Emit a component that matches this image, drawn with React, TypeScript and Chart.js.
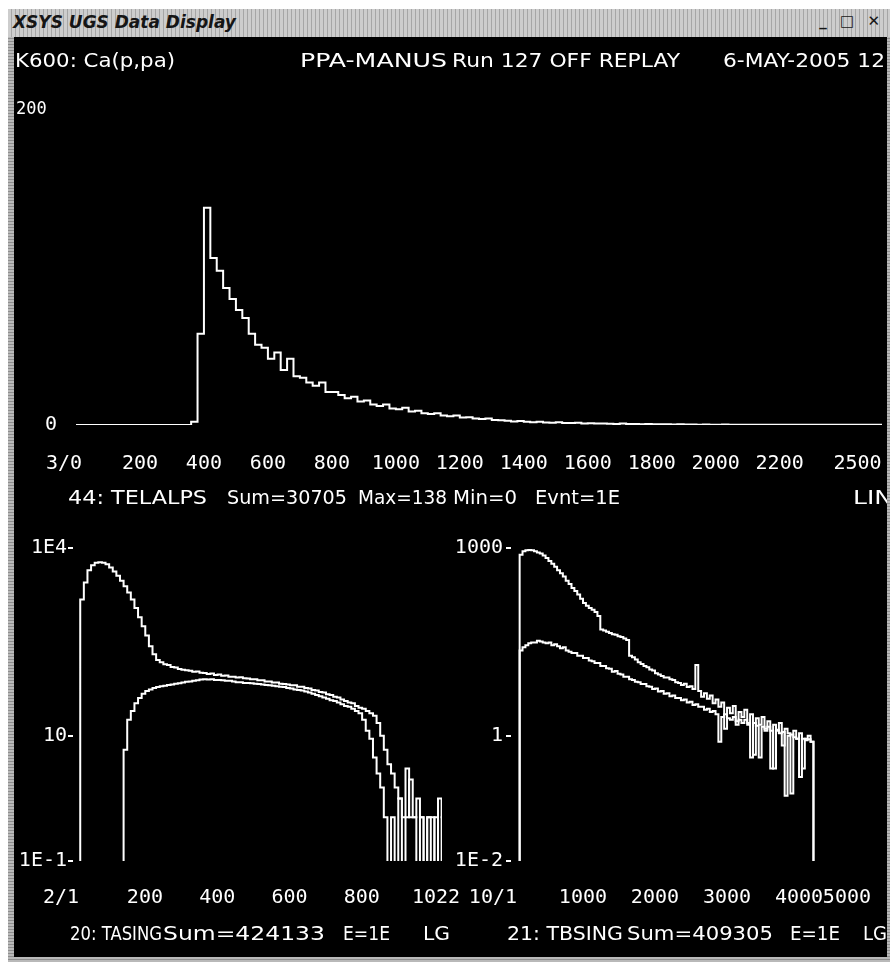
import { useEffect, useRef } from "react";
import { Chart, registerables } from "chart.js";

Chart.register(...registerables);

const MONO = '"DejaVu Sans Mono", monospace';
const SANS = '"DejaVu Sans", sans-serif';
const INK = "#ffffff";
const FIG = "\u2007";

// 44: TELALPS — linear spectrum, 20-channel bins starting at channel 0
const TELALPS_FIRST = 0;
const TELALPS_BIN = 20;
const TELALPS_COUNTS = [
  0, 0, 0, 0, 0, 0, 0, 0, 0, 0,
  0, 0, 0, 0, 0, 0, 0, 0, 2, 58,
  138, 106, 98, 87, 80, 73, 68, 58, 51, 49,
  42, 46, 35, 42, 31, 30, 27, 25, 27, 21,
  21, 19, 17, 18, 15, 15.5, 13, 12, 13, 10.5,
  10, 11, 8.5, 9, 7.5, 7, 7.5, 6, 5.5, 6,
  4.8, 5, 4.2, 3.8, 4.1, 3.2, 3, 2.7, 2.3, 2.6,
  2, 1.8, 2.1, 1.6, 1.5, 1.8, 1.3, 1.2, 1.4, 1,
  1.1, 0.9, 1, 0.8, 0.7, 0.9, 0.6, 0.6, 0.5, 0.7,
  0.4, 0.5, 0.4, 0.3, 0.4, 0.3, 0.3, 0.2, 0.3, 0.2,
  0.2, 0.3, 0.2, 0.2, 0.2, 0.1, 0.2, 0.2, 0.1, 0.2,
  0.1, 0.1, 0.2, 0.1, 0.1, 0.1, 0.1, 0.1, 0.1, 0.1,
  0.1, 0.1, 0.1, 0.1, 0.1, 0.1,
];
const TELALPS_X_TICKS = [0, 200, 400, 600, 800, 1000, 1200, 1400, 1600, 1800, 2000, 2200, 2500];
const TELALPS_X_LABELS = ["3/0", "200", "400", "600", "800", "1000", "1200", "1400", "1600", "1800", "2000", "2200", "2500"];
const TELALPS_Y_TICKS = [0, 200];
const TELALPS_Y_LABELS = ["0", "200"];

// 20: TASING — two overlaid spectra, 10-channel bins from channel 1
const TASING_FIRST = 1;
const TASING_BIN = 10;
const TASING_A = [
  0, 0, 1500, 2800, 4400, 5300, 5800, 5900, 5800, 5500,
  4900, 4200, 3600, 3000, 2450, 1950, 1500, 1100, 780, 560,
  400, 270, 200, 162, 150, 139, 135, 126, 123, 117,
  114, 111, 109, 105, 106, 102, 101, 97, 99, 94,
  95, 91, 92, 88, 88, 85, 86, 83, 82, 80,
  80, 77, 77, 74, 74, 71, 71, 68, 67, 66,
  64, 64, 61, 61, 58, 57, 54, 53, 50, 49,
  46, 45, 42, 41, 38, 36, 34, 33, 30, 28,
  27, 25, 23, 21, 16, 10, 6, 3.5, 2.5, 1.5,
  1, 0.5, 3, 0.5, 0.5, 1, 0.5, 0, 0.5, 0.5,
  0, 1, 0.5,
];
const TASING_B = [
  0, 0, 0, 0, 0, 0, 0, 0, 0, 0,
  0, 0, 0, 0, 6, 18, 25, 33, 40, 47,
  52, 55, 58, 60, 62, 63, 65, 66, 68, 69,
  71, 73, 74, 76, 77, 79, 80, 79, 80, 78,
  78, 77, 76, 76, 74, 72, 72, 70, 70, 69,
  68, 67, 66, 65, 64, 63, 62, 61, 60, 58,
  57, 55, 54, 53, 51, 49, 47, 45, 43, 41,
  39, 37, 36, 34, 32, 30, 29, 27, 25, 23,
  18, 12, 9, 4.5, 2.5, 1.5, 0.5, 0, 0.5, 0,
  1, 0, 0.5, 2, 0.5, 0, 0.5, 0, 0.5, 0,
  0.5, 0, 0.5,
];
const TASING_X_TICKS = [1, 200, 400, 600, 800, 1022];
const TASING_X_LABELS = ["2/1", "200", "400", "600", "800", "1022"];
const TASING_Y_TICKS = [0.1, 10, 10000];
const TASING_Y_LABELS = ["1E-1", "10", "1E4"];

// 21: TBSING — two overlaid spectra, 40-channel bins from channel 1
const TBSING_FIRST = 1;
const TBSING_BIN = 40;
const TBSING_U = [
  0, 0, 0, 780, 890, 920, 930, 920, 890, 850,
  820, 760, 690, 620, 560, 500, 440, 395, 350, 300,
  265, 230, 205, 180, 155, 132, 120, 110, 103, 95,
  82, 50, 48, 46, 44, 42, 41, 39, 38, 36,
  34, 19, 18, 16.5, 15, 14, 13, 12.5, 11.5, 11,
  10, 9.5, 9, 8.5, 8.5, 8, 7.8, 7.2, 7, 6.5,
  6.8, 6, 6.2, 5.6, 13.5, 5.2, 4.2, 4.8, 3.9, 4.4,
  3.3, 3.8, 2.9, 3.4, 1.3, 2.8, 2.3, 3, 1.5, 2.4,
  2, 2.6, 1.6, 2.2, 0.5, 1.9, 1.5, 2, 1.2, 1.7,
  0.3, 1.5, 1.2, 1.6, 0.7, 1.3, 1.1, 0.12, 1.2, 0.9,
  1.1, 0.3, 0.9, 1, 0.8,
];
const TBSING_L = [
  0, 0, 0, 23, 26, 28, 30, 31, 31, 33,
  32, 31, 30, 31, 28, 29, 27, 25, 26, 23,
  22, 21, 21, 19, 19, 17.5, 17.5, 16, 15.5, 14.5,
  14.5, 13, 13, 12, 11.8, 10.5, 10.8, 9.8, 9.5, 8.8,
  8.8, 8, 7.8, 7.3, 7.2, 6.7, 6.7, 6.2, 6.1, 5.6,
  5.7, 5.1, 5.2, 4.7, 4.8, 4.3, 4.4, 4, 4, 3.7,
  3.8, 3.4, 3.5, 3.1, 3.2, 2.9, 2.9, 2.6, 2.7, 2.4,
  2.5, 2.2, 0.8, 2, 2.2, 1.9, 1.8, 2, 1.7, 1.8,
  1.6, 1.8, 1.5, 0.45, 1.6, 1.45, 0.45, 1.4, 1.3, 1.4,
  1.2, 0.3, 1.25, 1.1, 1.15, 0.11, 1, 1.05, 0.95, 0.9,
  0.22, 0.9, 0.85, 0.88, 0.8,
];
const TBSING_X_TICKS = [1, 1000, 2000, 3000, 4000, 5000];
const TBSING_X_LABELS = ["10/1", "1000", "2000", "3000", "4000", "5000"];
const TBSING_Y_TICKS = [0.01, 1, 1000];
const TBSING_Y_LABELS = ["1E-2", "1", "1000"];

// ---------------------------------------------------------------------------

// Histogram bins as step points; the closing point ends the last bin.
// On a log axis an empty bin sits far below the axis floor, so the
// step drops to the bottom edge and is clipped there.
function binPoints(counts: number[], first: number, width: number, logFloor?: number) {
  const v = (c: number) => (logFloor !== undefined && c <= 0 ? logFloor : c);
  const pts = counts.map((c, i) => ({ x: first + i * width, y: v(c) }));
  const last = logFloor !== undefined ? logFloor : counts[counts.length - 1];
  pts.push({ x: first + counts.length * width, y: last });
  return pts;
}

const stepLine = {
  borderColor: INK,
  borderWidth: 2,
  pointRadius: 0,
  stepped: true,
  fill: false,
  borderJoinStyle: "miter",
};

type Caption = { text: string; x: number; y: number; w: number; size?: number };

// Vector-terminal style captions: each string is stretched to its box width.
function captions(items: Caption[]) {
  return {
    id: "captions",
    afterDraw(chart: any) {
      const ctx = chart.ctx;
      ctx.save();
      ctx.fillStyle = INK;
      ctx.textBaseline = "alphabetic";
      ctx.textAlign = "left";
      for (const it of items) {
        ctx.font = `${it.size ?? 20}px ${SANS}`;
        const natural = ctx.measureText(it.text).width;
        ctx.save();
        ctx.translate(it.x, it.y);
        ctx.scale(it.w / natural, 1);
        ctx.fillText(it.text, 0, 0);
        ctx.restore();
      }
      ctx.restore();
    },
  };
}

type Pads = Record<number, [number, number]>;

function xAxis(min: number, max: number, ticks: number[], labels: string[], pads: Pads, padding: number, height: number) {
  return {
    type: "linear",
    min,
    max,
    afterBuildTicks: (s: any) => {
      s.ticks = ticks.map((v) => ({ value: v }));
    },
    afterFit: (s: any) => {
      s.height = height;
      s.paddingLeft = 0;
      s.paddingRight = 0;
    },
    grid: { display: false },
    border: { display: false },
    ticks: {
      autoSkip: false,
      maxRotation: 0,
      minRotation: 0,
      padding,
      color: INK,
      font: { family: MONO, size: 20 },
      callback: (_v: any, i: number) => {
        const [lead, trail] = pads[i] || [0, 0];
        return FIG.repeat(lead) + labels[i] + FIG.repeat(trail);
      },
    },
  };
}

function logAxis(min: number, max: number, ticks: number[], labels: string[], width: number, padding: number) {
  return {
    type: "logarithmic",
    min,
    max,
    afterBuildTicks: (s: any) => {
      s.ticks = ticks.map((v) => ({ value: v }));
    },
    afterFit: (s: any) => {
      s.width = width;
      s.paddingTop = 0;
      s.paddingBottom = 0;
    },
    grid: { display: true, drawOnChartArea: false, drawTicks: true, tickLength: 5, color: INK, lineWidth: 2 },
    border: { display: false },
    ticks: {
      autoSkip: false,
      padding,
      color: INK,
      font: { family: MONO, size: 20 },
      callback: (_v: any, i: number) => labels[i],
    },
  };
}

const baseOptions = {
  animation: false,
  responsive: false,
  devicePixelRatio: 1,
  events: [],
  plugins: { legend: { display: false }, tooltip: { enabled: false }, title: { display: false } },
};

function telalpsConfig(): any {
  return {
    type: "line",
    data: {
      datasets: [{ ...stepLine, data: binPoints(TELALPS_COUNTS, TELALPS_FIRST, TELALPS_BIN) }],
    },
    options: {
      ...baseOptions,
      layout: { padding: { left: 0, top: 73, right: 5, bottom: 0 } },
      scales: {
        x: xAxis(0, 2520, TELALPS_X_TICKS, TELALPS_X_LABELS, { 0: [0, 2], 12: [0, 3] }, 19, 85),
        y: {
          type: "linear",
          min: 0,
          max: 200,
          afterBuildTicks: (s: any) => {
            s.ticks = TELALPS_Y_TICKS.map((v) => ({ value: v }));
          },
          afterFit: (s: any) => {
            s.width = 62;
            s.paddingTop = 0;
            s.paddingBottom = 0;
          },
          grid: { display: false },
          border: { display: false },
          ticks: {
            autoSkip: false,
            padding: 11,
            color: INK,
            font: (c: any) => ({ family: MONO, size: c.index === 1 ? 17 : 20 }),
            callback: (_v: any, i: number) => TELALPS_Y_LABELS[i] + (i === 1 ? FIG : ""),
          },
        },
      },
    },
    plugins: [
      captions([
        { text: "K600: Ca(p,pa)", x: 1, y: 30, w: 160 },
        { text: "PPA-MANUS", x: 286, y: 30, w: 147 },
        { text: "Run 127 OFF REPLAY", x: 438, y: 30, w: 228 },
        { text: "6-MAY-2005 12", x: 709, y: 30, w: 162 },
        { text: "44: TELALPS", x: 54, y: 467, w: 139 },
        { text: "Sum=30705", x: 213, y: 467, w: 120 },
        { text: "Max=138", x: 344, y: 467, w: 89 },
        { text: "Min=0", x: 439, y: 467, w: 64 },
        { text: "Evnt=1E", x: 521, y: 467, w: 85 },
        { text: "LIN", x: 839, y: 467, w: 40 },
      ]),
    ],
  };
}

function tasingConfig(): any {
  return {
    type: "line",
    data: {
      datasets: [
        { ...stepLine, data: binPoints(TASING_A, TASING_FIRST, TASING_BIN, 1e-4) },
        { ...stepLine, data: binPoints(TASING_B, TASING_FIRST, TASING_BIN, 1e-4) },
      ],
    },
    options: {
      ...baseOptions,
      layout: { padding: { left: 0, top: 38, right: 28, bottom: 0 } },
      scales: {
        x: xAxis(1, 1022, TASING_X_TICKS, TASING_X_LABELS, { 0: [0, 2], 5: [0, 1] }, 17, 96),
        y: logAxis(0.1, 10000, TASING_Y_TICKS, TASING_Y_LABELS, 59, 1),
      },
    },
    plugins: [
      captions([
        { text: "20: TASING", x: 56, y: 430, w: 92 },
        { text: "Sum=424133", x: 149, y: 430, w: 162 },
        { text: "E=1E", x: 329, y: 430, w: 47 },
        { text: "LG", x: 409, y: 430, w: 27 },
      ]),
    ],
  };
}

function tbsingConfig(): any {
  return {
    type: "line",
    data: {
      datasets: [
        { ...stepLine, data: binPoints(TBSING_U, TBSING_FIRST, TBSING_BIN, 1e-5) },
        { ...stepLine, data: binPoints(TBSING_L, TBSING_FIRST, TBSING_BIN, 1e-5) },
      ],
    },
    options: {
      ...baseOptions,
      layout: { padding: { left: 0, top: 38, right: 16, bottom: 0 } },
      scales: {
        x: xAxis(1, 5000, TBSING_X_TICKS, TBSING_X_LABELS, { 0: [0, 3], 5: [0, 4] }, 17, 96),
        y: logAxis(0.01, 1000, TBSING_Y_TICKS, TBSING_Y_LABELS, 71, 3),
      },
    },
    plugins: [
      captions([
        { text: "21: TBSING", x: 67, y: 430, w: 116 },
        { text: "Sum=409305", x: 187, y: 430, w: 146 },
        { text: "E=1E", x: 350, y: 430, w: 50 },
        { text: "LG", x: 423, y: 430, w: 24 },
      ]),
    ],
  };
}

function Panel({ left, top, width, height, build }: any) {
  const ref = useRef<HTMLCanvasElement>(null);
  useEffect(() => {
    const chart = new Chart(ref.current as HTMLCanvasElement, build());
    return () => chart.destroy();
  }, [build]);
  return (
    <canvas
      ref={ref}
      width={width}
      height={height}
      style={{ position: "absolute", left, top, width, height, display: "block" }}
    />
  );
}

const FRAME_GREY =
  "repeating-linear-gradient(0deg, #b9b9b9 0px, #b9b9b9 2px, #8e8e8e 2px, #8e8e8e 3px)";
const TITLE_GREY =
  "repeating-linear-gradient(90deg, #cdcdcd 0px, #cdcdcd 3px, #a6a6a6 3px, #a6a6a6 4px)";

export default function App() {
  return (
    <div
      style={{
        position: "absolute",
        left: 0,
        top: 0,
        width: 890,
        height: 965,
        background: "#ffffff",
        overflow: "hidden",
      }}
    >
      <div style={{ position: "absolute", left: 8, top: 9, width: 882, height: 953, background: FRAME_GREY }} />
      <div style={{ position: "absolute", left: 8, top: 9, width: 882, height: 28, background: TITLE_GREY }}>
        <span
          style={{
            position: "absolute",
            left: 5,
            top: 3,
            font: `italic bold 17px ${SANS}`,
            color: "#151515",
            whiteSpace: "nowrap",
          }}
        >
          XSYS UGS Data Display
        </span>
        <span
          style={{
            position: "absolute",
            right: 6,
            top: 3,
            font: `bold 15px ${SANS}`,
            color: "#151515",
            letterSpacing: 4,
            whiteSpace: "nowrap",
          }}
        >
          _ □ ✕
        </span>
      </div>
      <div style={{ position: "absolute", left: 14, top: 37, width: 873, height: 920, background: "#000000" }} />
      <Panel left={14} top={37} width={873} height={473} build={telalpsConfig} />
      <Panel left={14} top={510} width={456} height={447} build={tasingConfig} />
      <Panel left={440} top={510} width={447} height={447} build={tbsingConfig} />
    </div>
  );
}
